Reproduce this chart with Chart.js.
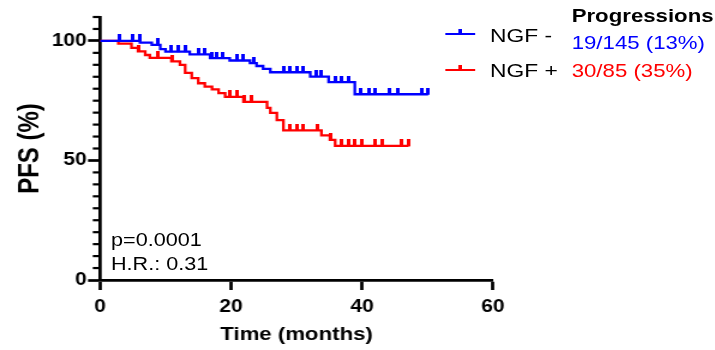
<!DOCTYPE html>
<html>
<head>
<meta charset="utf-8">
<title>PFS by NGF status</title>
<script src="https://cdn.jsdelivr.net/npm/chart.js@4"></script>
<style>
  html, body { margin: 0; padding: 0; background: #fff; overflow: hidden; }
  /* figure is laid out narrow, then widened 1.2x on screen */
  #stage { position: absolute; left: 0; top: 0; width: 596px; height: 350px;
           transform: scaleX(1.2); transform-origin: 0 0;
           font-family: "Liberation Sans", Arial, sans-serif; }
  #stage canvas { position: absolute; left: 0; top: 0; }
  .txt { position: absolute; white-space: nowrap; line-height: 1; color: #000; }
  .key { position: absolute; width: 25px; height: 2px; }
  .key i { position: absolute; left: 11px; top: -4px; width: 3px; height: 4px; background: inherit; }
</style>
</head>
<body>
<div id="stage"><canvas id="km" width="596" height="350"></canvas></div>
<script>
const groupNames = ['NGF -', 'NGF +'];
const groupColors = ['#0000ff', '#ff0000'];
const progressionTitle = 'Progressions';
const progressionCounts = ['19/145 (13%)', '30/85 (35%)'];
const statLines = ['p=0.0001', 'H.R.: 0.31'];

// NGF- : months at each progression, PFS (%) right after it, censored follow-up
const negEventMonths = [6.1, 7.9, 9.2, 10.0, 13.7, 16.8, 19.8, 22.9, 23.9, 24.9, 26.0, 32.1, 34.9, 38.9];
const negSurvival = [99.3, 98.3, 96.6, 95.5, 94.4, 92.8, 91.8, 90.7, 89.5, 88.3, 86.9, 85.1, 82.8, 77.7];
const negCensoredMonths = [2.9, 5.0, 6.0, 8.9, 10.9, 12.0, 13.0, 15.0, 16.0, 17.0, 17.8, 18.8, 20.9, 21.9, 23.4,
  28.0, 29.0, 30.0, 31.0, 33.0, 33.8, 35.9, 36.9, 37.9, 39.8, 41.0, 42.0, 44.2, 45.5, 49.1, 50.1];

// NGF+
const posEventMonths = [2.8, 4.8, 5.8, 6.9, 7.6, 10.9, 12.2, 13.0, 14.0, 15.0, 16.0, 17.1, 18.1, 19.1, 21.9,
  25.5, 26.0, 27.0, 28.0, 33.8, 35.1, 35.9];
const posSurvival = [98.9, 97.1, 95.6, 94.1, 92.9, 91.4, 90.0, 86.6, 84.4, 82.3, 80.9, 79.7, 78.2, 76.6, 74.5,
  72.0, 69.9, 66.9, 62.6, 60.5, 58.6, 56.1];
const posCensoredMonths = [5.9, 8.9, 11.0, 19.8, 20.9, 22.1, 23.2, 29.0, 30.0, 31.0, 33.1, 35.2, 36.9, 37.9,
  38.9, 39.9, 42.0, 43.0, 46.1, 47.1];

const xTickValues = [0, 20, 40, 60];
const yTickValues = [0, 50, 100];
const yMax = 110;
const yMinorStep = 5;

const FONT = '"Liberation Sans", Arial, sans-serif';

// step curve points; censored ones sit on the current level and get a tick mark
function kmPoints(eventT, surv, censT) {
  const pts = [{ x: 0, y: 100, censored: false, k: 0 }];
  eventT.forEach((t, i) => pts.push({ x: t, y: surv[i], censored: false, k: 0 }));
  censT.forEach(t => pts.push({ x: t, y: null, censored: true, k: 1 }));
  pts.sort((a, b) => a.x - b.x || a.k - b.k);
  let level = 100;
  pts.forEach(p => { if (p.censored) p.y = level; else level = p.y; });
  return pts;
}

// upward tick only: bottom half of the sprite is left empty
function censorMark(color) {
  const c = document.createElement('canvas');
  c.width = 3; c.height = 13;
  const g = c.getContext('2d');
  g.fillStyle = color;
  g.fillRect(0, 0, 3, 7);
  return c;
}

function curve(label, color, pts) {
  const mark = censorMark(color);
  return {
    label, data: pts, borderColor: color, backgroundColor: color,
    borderWidth: 2.3, stepped: true, fill: false, tension: 0,
    pointStyle: mark,
    pointRadius: ctx => (ctx.raw && ctx.raw.censored ? 3 : 0)
  };
}

const minorTicks = {
  id: 'minorTicks',
  afterDraw(chart) {
    const y = chart.scales.y, left = chart.chartArea.left, g = chart.ctx;
    g.save();
    g.strokeStyle = '#000';
    g.lineWidth = 2.2;
    for (let v = yMinorStep; v <= yMax; v += yMinorStep) {
      if (yTickValues.includes(v)) continue;
      const py = y.getPixelForValue(v);
      g.beginPath(); g.moveTo(left - 6, py); g.lineTo(left, py); g.stroke();
    }
    g.restore();
  }
};

new Chart(document.getElementById('km'), {
  type: 'line',
  data: {
    datasets: [
      curve(groupNames[0], groupColors[0], kmPoints(negEventMonths, negSurvival, negCensoredMonths)),
      curve(groupNames[1], groupColors[1], kmPoints(posEventMonths, posSurvival, posCensoredMonths))
    ]
  },
  options: {
    responsive: false, animation: false, events: [],
    layout: { padding: { top: 17, right: 185.17, left: 0, bottom: 0 } },
    plugins: { legend: { display: false }, tooltip: { enabled: false } },
    scales: {
      x: {
        type: 'linear', min: 0, max: 60,
        afterBuildTicks: s => { s.ticks = xTickValues.map(v => ({ value: v })); },
        afterFit: s => { s.height = 70; },
        border: { display: true, width: 2.75, color: '#000' },
        grid: { drawOnChartArea: false, drawTicks: true, tickLength: 10, tickWidth: 2.75, tickColor: '#000' },
        ticks: { color: '#000', padding: 7, maxRotation: 0, font: { family: FONT, size: 17.5, weight: 'bold' } },
        title: { display: true, text: 'Time (months)', color: '#000', padding: { top: 0, bottom: 4 },
                 font: { family: FONT, size: 18.5, weight: 'bold' } }
      },
      y: {
        type: 'linear', min: 0, max: yMax,
        afterBuildTicks: s => { s.ticks = yTickValues.map(v => ({ value: v })); },
        afterFit: s => { s.width = 83.33; },
        border: { display: true, width: 2.75, color: '#000' },
        grid: { drawOnChartArea: false, drawTicks: true, tickLength: 10, tickWidth: 2.7, tickColor: '#000' },
        ticks: { color: '#000', padding: 1, font: { family: FONT, size: 17.5, weight: 'bold' } },
        title: { display: true, text: 'PFS (%)', color: '#000', padding: { top: 10.6, bottom: 0 },
                 font: { family: FONT, size: 24, weight: 'bold' } }
      }
    }
  },
  plugins: [minorTicks]
});

// legend block and test statistics
const stage = document.getElementById('stage');
function placeText(text, x, baseline, size, bold, color) {
  const el = document.createElement('div');
  el.className = 'txt';
  el.textContent = text;
  el.style.left = x + 'px';
  el.style.top = (baseline - 0.8465 * size) + 'px';
  el.style.fontSize = size + 'px';
  if (bold) el.style.fontWeight = 'bold';
  if (color) el.style.color = color;
  stage.appendChild(el);
}
function placeKey(color, x, y) {
  const el = document.createElement('div');
  el.className = 'key';
  el.style.left = x + 'px';
  el.style.top = (y - 1) + 'px';
  el.style.background = color;
  el.appendChild(document.createElement('i'));
  stage.appendChild(el);
}

const keyRows = [33.5, 70];
const nameBaselines = [41.7, 77];
const countBaselines = [49.5, 77.5];
groupNames.forEach((name, i) => {
  placeKey(groupColors[i], 370.8, keyRows[i]);
  placeText(name, 408.3, nameBaselines[i], 19, false);
  placeText(progressionCounts[i], 476.4, countBaselines[i], 18.5, false, groupColors[i]);
});
placeText(progressionTitle, 476.4, 23, 18.5, true);
placeText(statLines[0], 92.5, 246.5, 18, false);
placeText(statLines[1], 92.5, 270, 18, false);
</script>
</body>
</html>
